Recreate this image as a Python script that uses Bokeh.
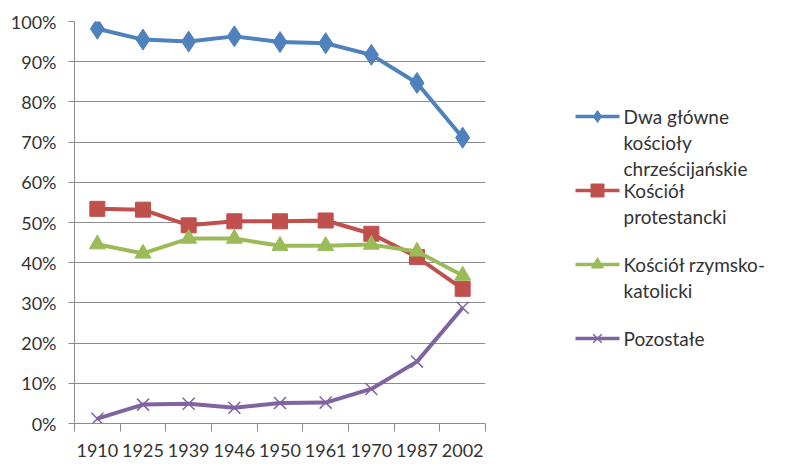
from bokeh.plotting import figure
from bokeh.layouts import row
from bokeh.models import Range1d, FixedTicker, ColumnDataSource
from bokeh.core.properties import value
from bokeh.embed import file_html
from bokeh.resources import INLINE

# ---- data ----
years = ["1910", "1925", "1939", "1946", "1950", "1961", "1970", "1987", "2002"]
dwa_glowne = [98.2, 95.5, 95.0, 96.3, 94.9, 94.6, 91.7, 84.7, 71.1]
protestancki = [53.4, 53.2, 49.3, 50.3, 50.3, 50.5, 47.2, 41.4, 33.5]
rzymskokatolicki = [44.6, 42.3, 46.0, 46.0, 44.2, 44.2, 44.5, 42.8, 36.8]
pozostale = [1.2, 4.7, 4.9, 3.9, 5.1, 5.2, 8.6, 15.4, 28.8]
y_ticks = [0, 10, 20, 30, 40, 50, 60, 70, 80, 90, 100]

series_labels = [
    ["Dwa główne", "kościoły", "chrześcijańskie"],
    ["Kościół", "protestancki"],
    ["Kościół rzymsko-", "katolicki"],
    ["Pozostałe"],
]

FONT = "Lato"
TXT = "#333333"
GRID = "#8c8c8c"
colors = ["#4F81BD", "#C0504D", "#9BBB59", "#8064A2"]
markers = ["diamond", "square", "triangle", "x"]
msizes = [21, 15, 16, 17]

xc = [i + 0.5 for i in range(len(years))]

p = figure(width=540, height=474, output_backend="svg", toolbar_location=None,
           x_range=Range1d(0, len(years)), y_range=Range1d(0, 100),
           min_border_left=74, min_border_right=55, min_border_top=21,
           min_border_bottom=51)
p.outline_line_color = None
p.background_fill_color = "white"
p.border_fill_color = "white"

# axes
p.xaxis.ticker = FixedTicker(ticks=xc, minor_ticks=list(range(len(years) + 1)))
p.xaxis.major_label_overrides = {c: y for c, y in zip(xc, years)}
p.xaxis.major_tick_out = 0
p.xaxis.major_tick_in = 0
p.xaxis.minor_tick_out = 8
p.xaxis.minor_tick_in = 0
p.xaxis.minor_tick_line_color = GRID
p.xaxis.axis_line_color = GRID
p.xaxis.major_label_standoff = 12
p.xgrid.visible = False

p.yaxis.ticker = FixedTicker(ticks=y_ticks, minor_ticks=[])
p.yaxis.major_label_overrides = {v: f"{v}%" for v in y_ticks}
p.yaxis.major_tick_out = 6
p.yaxis.major_tick_in = 0
p.yaxis.major_tick_line_color = GRID
p.yaxis.axis_line_color = GRID
p.yaxis.major_label_standoff = 12
p.ygrid.grid_line_color = GRID
p.ygrid.ticker = FixedTicker(ticks=y_ticks)

for ax in (p.xaxis, p.yaxis):
    ax.major_label_text_font = FONT
    ax.major_label_text_font_size = "18px"
    ax.major_label_text_color = TXT

all_series = [dwa_glowne, protestancki, rzymskokatolicki, pozostale]
for vals, col, mk, ms in zip(all_series, colors, markers, msizes):
    src = ColumnDataSource(dict(x=xc, y=vals))
    p.line("x", "y", source=src, line_color=col, line_width=4)
    if mk == "x":
        p.scatter("x", "y", source=src, marker=mk, size=ms, line_color=col,
                  line_width=1.5)
    else:
        p.scatter("x", "y", source=src, marker=mk, size=ms, fill_color=col,
                  line_color=col)

# ---- legend panel (coordinates = page pixels) ----
leg = figure(width=260, height=474, output_backend="svg", toolbar_location=None,
             x_range=Range1d(540, 800), y_range=Range1d(423, 21),
             min_border_left=0, min_border_right=0, min_border_top=21,
             min_border_bottom=51)
leg.axis.visible = False
leg.grid.visible = False
leg.outline_line_color = None

entry_y = [116, 190, 264, 338]
line_gap = 26
leg_msizes = [12, 13, 12, 12]
for lines, y0, col, mk, ms in zip(series_labels, entry_y, colors, markers, leg_msizes):
    leg.segment(x0=[575], y0=[y0], x1=[619], y1=[y0], line_color=col, line_width=3.5)
    if mk == "x":
        leg.scatter([597], [y0], marker=mk, size=ms, line_color=col, line_width=1.5)
    else:
        leg.scatter([597], [y0], marker=mk, size=ms, fill_color=col, line_color=col)
    leg.text(x=[623] * len(lines), y=[y0 + i * line_gap for i in range(len(lines))],
             text=lines, text_font=value(FONT), text_font_size="19px",
             text_baseline="middle", text_color=TXT)

layout = row(p, leg)
open("out.html", "w").write(file_html(layout, INLINE))
